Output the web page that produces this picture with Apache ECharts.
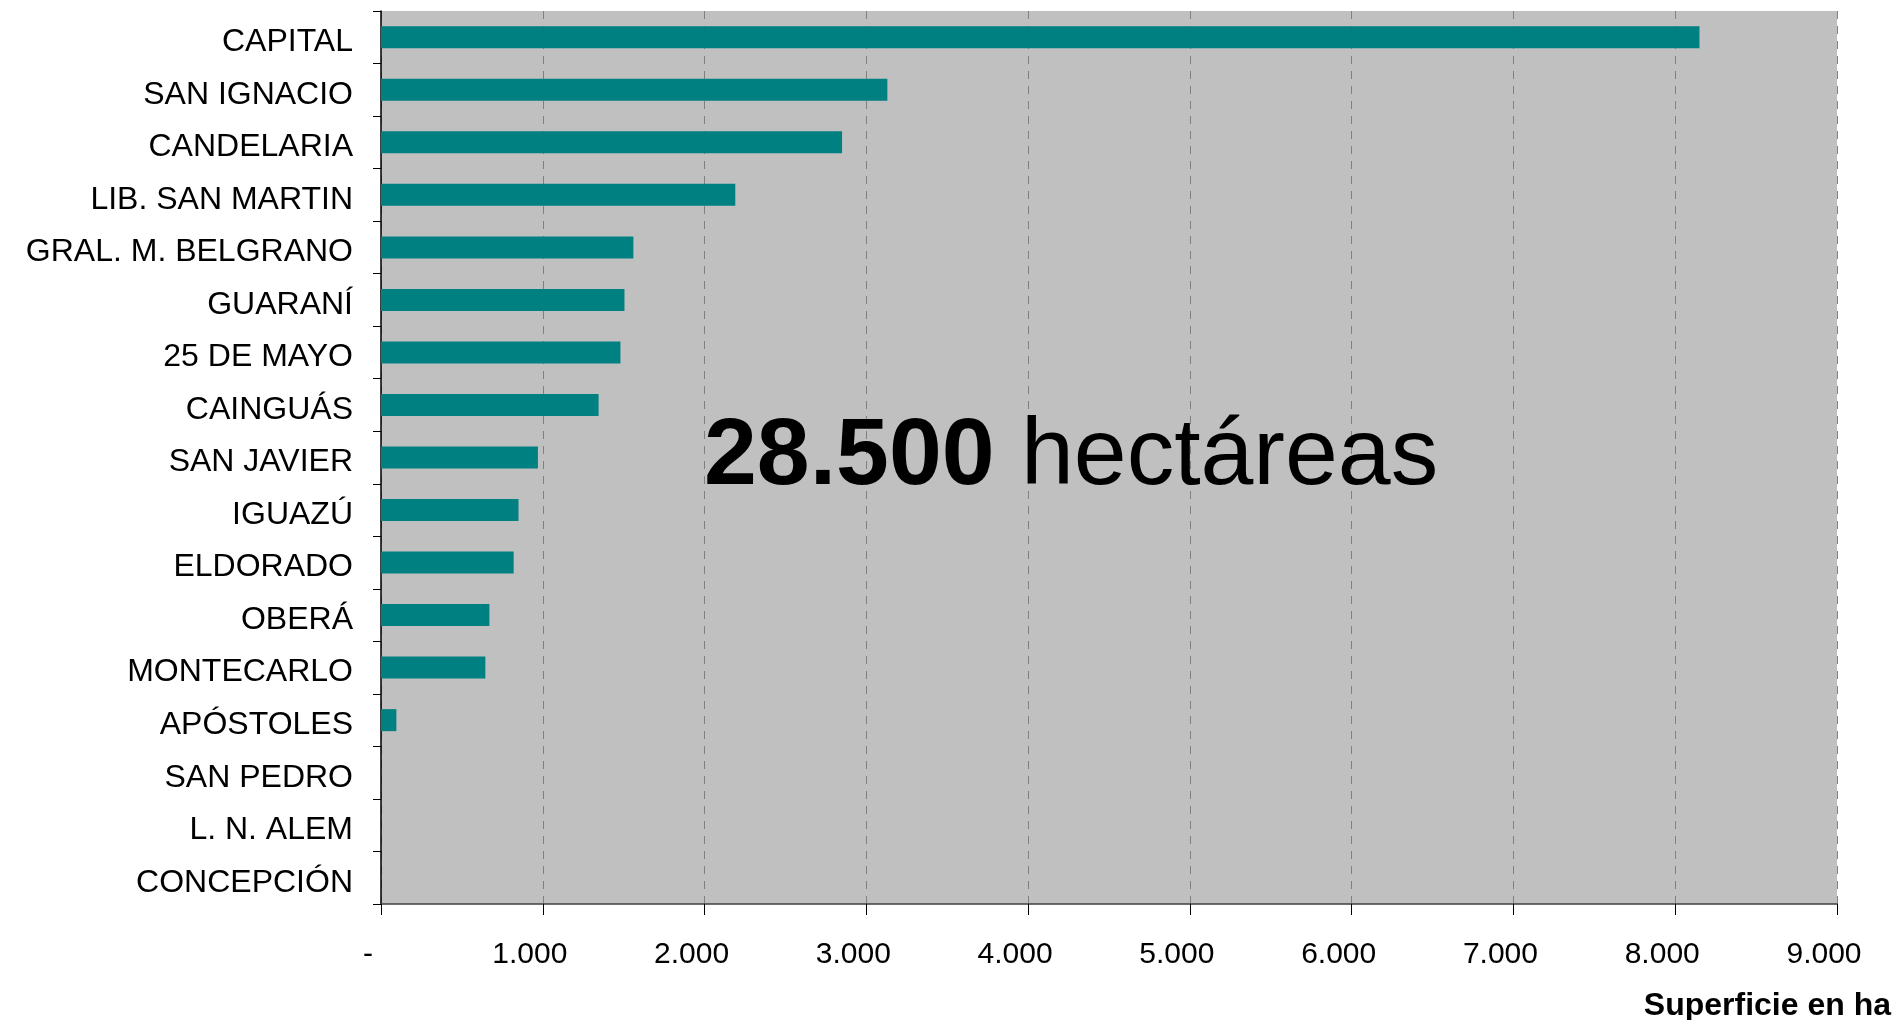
<!DOCTYPE html>
<html>
<head>
<meta charset="utf-8">
<script src="https://cdn.jsdelivr.net/npm/echarts@6/dist/echarts.min.js"></script>
<style>
  html, body { margin: 0; padding: 0; background: #ffffff; }
  #chart { width: 1898px; height: 1020px; }
</style>
</head>
<body>
<div id="chart"></div>
<script>
// ---- data ----
const categories = ['CAPITAL', 'SAN IGNACIO', 'CANDELARIA', 'LIB. SAN MARTIN', 'GRAL. M. BELGRANO',
  'GUARANÍ', '25 DE MAYO', 'CAINGUÁS', 'SAN JAVIER', 'IGUAZÚ', 'ELDORADO', 'OBERÁ',
  'MONTECARLO', 'APÓSTOLES', 'SAN PEDRO', 'L. N. ALEM', 'CONCEPCIÓN'];
const values = [8150, 3130, 2850, 2190, 1560, 1505, 1480, 1345, 970, 850, 820, 670, 645, 95, 0, 0, 0];
const xTickLabels = ['-', '1.000', '2.000', '3.000', '4.000', '5.000', '6.000', '7.000', '8.000', '9.000'];
const totalNumber = '28.500';
const totalUnit = 'hectáreas';
const axisTitle = 'Superficie en ha';

const FONT = '"Liberation Sans", Arial, sans-serif';
const chart = echarts.init(document.getElementById('chart'), null, { renderer: 'canvas' });

chart.setOption({
  animation: false,
  backgroundColor: '#ffffff',
  grid: {
    left: 381, right: 61, top: 11, bottom: 116,
    show: true, backgroundColor: '#C0C0C0', borderWidth: 0
  },
  xAxis: {
    type: 'value',
    min: 0, max: 9000, interval: 1000,
    axisLine: { show: true, lineStyle: { color: '#404040', width: 1.5 } },
    axisTick: { show: true, length: 11, lineStyle: { color: '#000000', width: 1 } },
    splitLine: { show: true, lineStyle: { color: '#808080', width: 1, type: [8, 7] } },
    axisLabel: {
      margin: 36,
      color: '#000000',
      fontFamily: FONT,
      fontSize: 30,
      padding: [0, 26, 0, 0],
      formatter: function (v) { return xTickLabels[Math.round(v / 1000)]; }
    }
  },
  yAxis: {
    type: 'category',
    data: categories,
    inverse: true,
    axisLine: { show: true, lineStyle: { color: '#000000', width: 1.5 } },
    axisTick: { show: true, length: 8, lineStyle: { color: '#000000', width: 1 } },
    splitLine: { show: false },
    axisLabel: {
      margin: 28,
      interval: 0,
      formatter: function (v) { return '{a|' + v + '}'; },
      rich: {
        a: { color: '#000000', fontFamily: FONT, fontSize: 32, padding: [10, 0, 0, 0] }
      }
    }
  },
  series: [{
    type: 'bar',
    data: values,
    barWidth: 22,
    itemStyle: { color: '#008080' },
    silent: true
  }],
  graphic: [
    {
      type: 'text',
      z: 100,
      left: 704,
      top: 410,
      style: {
        text: '{b|' + totalNumber + '}{n| ' + totalUnit + '}',
        rich: {
          b: { fontFamily: FONT, fontWeight: 'bold', fontSize: 95, fill: '#000000' },
          n: { fontFamily: FONT, fontWeight: 'normal', fontSize: 95, fill: '#000000' }
        }
      }
    },
    {
      type: 'text',
      z: 100,
      right: 7,
      top: 990,
      style: {
        text: axisTitle,
        font: 'bold 32px ' + FONT,
        fill: '#000000'
      }
    }
  ]
});
</script>
</body>
</html>
